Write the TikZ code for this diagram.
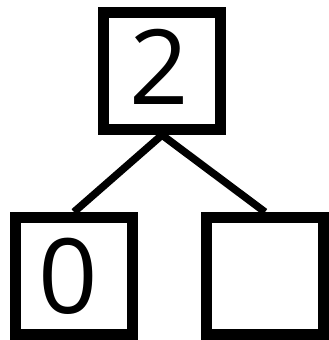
\documentclass[tikz,border=0pt]{standalone}
\usepackage{fontspec}
\setmainfont{Open Sans}
\begin{document}
\begin{tikzpicture}[x=1pt,y=-1pt,
  cell/.style={draw=black,line width=11pt,minimum width=117pt,minimum height=117pt,inner sep=0pt},
  digit/.style={inner sep=0pt,font=\fontsize{104}{104}\selectfont,text height=74pt,text depth=0pt},
  edge/.style={line width=7.5pt}]
\useasboundingbox (0,0) rectangle (329,340);
\node[cell] (top) at (162,71) {};
\node[cell] (l) at (74,276) {};
\node[cell] (r) at (265,276) {};
\node[digit] (t2) at (159,67) {2};
\node[digit] (t0) at (68,276) {0};
\draw[edge] (top.south) -- (l.north);
\draw[edge] (top.south) -- (r.north);
\end{tikzpicture}
\end{document}
